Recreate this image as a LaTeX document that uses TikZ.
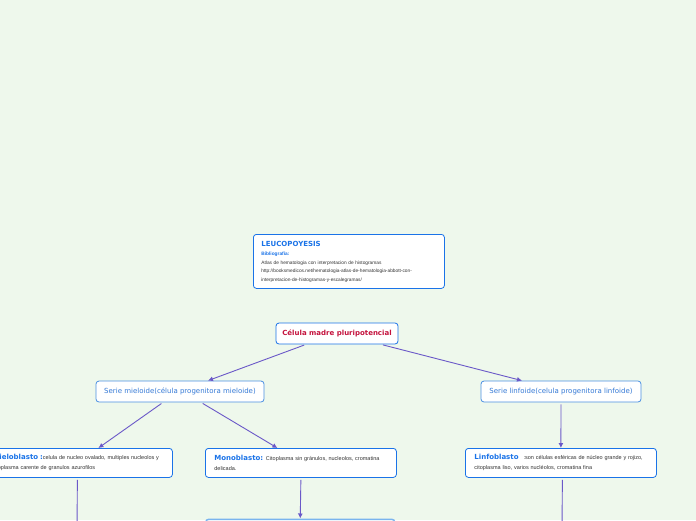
\documentclass[tikz,border=0pt]{standalone}
\usepackage{fontspec}
\setmainfont{Liberation Sans}
\newfontfamily\ancha{DejaVu Sans}
\usetikzlibrary{arrows.meta}
\definecolor{fondo}{HTML}{EEF8EC}
\definecolor{azul}{HTML}{1A73E8}
\definecolor{azulclaro}{HTML}{4A90E2}
\definecolor{azultexto}{HTML}{3479D6}
\definecolor{celeste}{HTML}{7AB4EE}
\definecolor{carmin}{HTML}{C4113C}
\definecolor{flecha}{HTML}{6A58C8}
\definecolor{texto}{HTML}{333333}
\newcommand\titulo{\ancha\fontsize{7}{8}\selectfont\bfseries\color{azul}}
\begin{document}
\begin{tikzpicture}[x=1pt,y=-1pt,
  every node/.style={font=\ancha\fontsize{7}{8.5}\selectfont},
  caja/.style={draw=azul,fill=white,rounded corners=3pt,line width=0.8pt,inner sep=0pt},
  serie/.style={caja,draw=azulclaro,text=azultexto,minimum height=21pt},
  nota/.style={caja,anchor=north west,align=left,inner xsep=9pt,minimum height=29pt,
    text=texto,font=\fontsize{5.5}{10}\selectfont},
  conn/.style={draw=flecha,line width=0.9pt,-{Latex[length=5pt,width=5pt]},shorten <=2pt}]
\fill[fondo] (0,0) rectangle (696,520);
\clip (0,0) rectangle (696,520);
% titulo y bibliografia
\node[caja,anchor=north west,align=left,text width=175pt,inner xsep=8pt,minimum height=54pt,
  text=texto,font=\fontsize{4.8}{8.5}\selectfont] (leuco) at (253,234)
  {{\titulo LEUCOPOYESIS}\\[1pt]
   {\bfseries\color{azul}Bibliografía:}\\
   Atlas de hematologia con interpretacion de histogramas\\
   http://booksmedicos.net/hematologia-atlas-de-hematologia-abbott-con-\\
   interpretacion-de-histogramas-y-escalegramas/};
% celula madre
\node[caja,minimum width=122pt,minimum height=21pt,text=carmin,font=\ancha\fontsize{7}{8.5}\selectfont\bfseries]
  (celula) at (337,333.5) {Célula madre pluripotencial};
% series
\node[serie,minimum width=168pt] (mieloide) at (180,391.5) {Serie mieloide(célula progenitora mieloide)};
\node[serie,minimum width=160pt] (linfoide) at (561,391.5) {Serie linfoide(celula progenitora linfoide)};
% blastos
\node[nota,text width=174pt,inner xsep=6pt] (mieloblasto) at (-14,448)
  {{\titulo Mieloblasto :}celula de nucleo ovalado, multiples nucleolos y\\
   citoplasma carente de granulos azurofilos};
\node[nota,text width=173pt] (monoblasto) at (205,448)
  {{\titulo Monoblasto:} Citoplasma sin gránulos, nucleolos, cromatina\\
   delicada.};
\node[nota,text width=173pt] (linfoblasto) at (465,448)
  {{\titulo Linfoblasto}\hspace{5pt}:son células esféricas de núcleo grande y rojizo,\\
   citoplasma liso, varios nucléolos, cromatina fina};
\node[caja,draw=celeste,line width=1.5pt,anchor=north west,minimum width=189pt,minimum height=30pt]
  (siguiente) at (205,518.5) {};
\coordinate (finmielo) at (77,530);
\coordinate (finlinfo) at (562,530);
% conectores
\draw[conn] ([xshift=-31pt]celula.south) -- ([xshift=28pt]mieloide.north);
\draw[conn] ([xshift=44pt]celula.south) -- ([xshift=-39pt]linfoide.north);
\draw[conn] ([xshift=-17pt]mieloide.south) -- ([xshift=19pt]mieloblasto.north);
\draw[conn] ([xshift=21pt]mieloide.south) -- ([xshift=-23.5pt]monoblasto.north);
\draw[conn] (linfoide.south) -- (linfoblasto.north);
\draw[conn] ([xshift=-2pt]mieloblasto.south) -- (finmielo);
\draw[conn] (monoblasto.south) -- (siguiente.north);
\draw[conn] ([xshift=1.5pt]linfoblasto.south) -- (finlinfo);
\end{tikzpicture}
\end{document}
